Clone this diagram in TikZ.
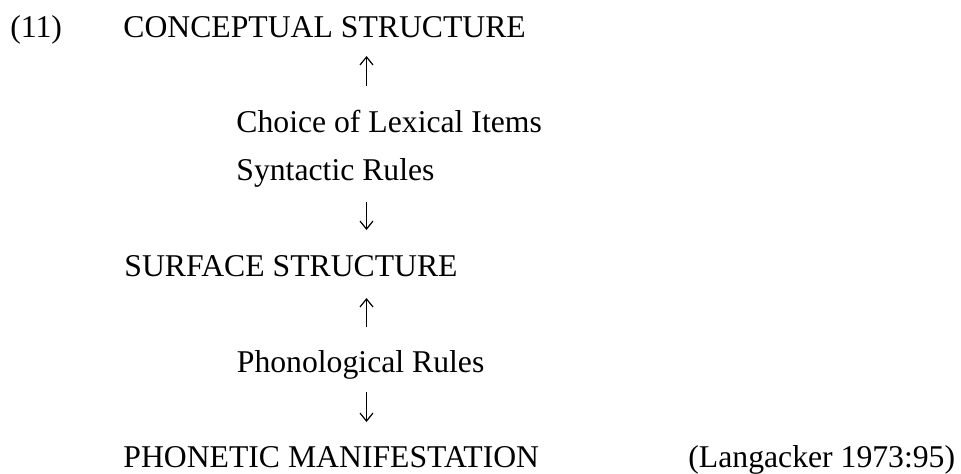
\documentclass[tikz,border=0pt]{standalone}
\usepackage{fontspec}
\setmainfont{Liberation Serif}
\usepackage{tikz}
\usetikzlibrary{arrows.meta}

\begin{document}
\begin{tikzpicture}[x=0.5pt,y=-0.5pt,
	txt/.style={anchor=base west,inner sep=0pt,font=\fontsize{15.85pt}{19pt}\selectfont},
	flecha/.style={-{Straight Barb[length=4pt,width=6.5pt]},line width=0.6pt}]
	\useasboundingbox (0,0) rectangle (961,473);
	\node [txt] (num) at (10,37) {(11)};
	\node [txt] (cs) at (123,37) {CONCEPTUAL STRUCTURE};
	\node [txt] (lex) at (236,132) {Choice of Lexical Items};
	\node [txt] (sin) at (236,180) {Syntactic Rules};
	\node [txt] (ss) at (124,276) {SURFACE STRUCTURE};
	\node [txt] (fon) at (236.5,372) {Phonological Rules};
	\node [txt] (pm) at (123,467) {PHONETIC MANIFESTATION};
	\node [txt] (ref) at (688,467) {(Langacker 1973:95)};
	% flechas
	\coordinate (a1) at (366.5,86);  \coordinate (b1) at (366.5,56);
	\coordinate (a2) at (366.5,202); \coordinate (b2) at (366.5,230);
	\coordinate (a3) at (366.5,327); \coordinate (b3) at (366.5,298);
	\coordinate (a4) at (366.5,392); \coordinate (b4) at (366.5,422);
	\draw [flecha] (a1) -- (b1); % arriba
	\draw [flecha] (a2) -- (b2); % abajo
	\draw [flecha] (a3) -- (b3); % arriba
	\draw [flecha] (a4) -- (b4); % abajo
\end{tikzpicture}
\end{document}
